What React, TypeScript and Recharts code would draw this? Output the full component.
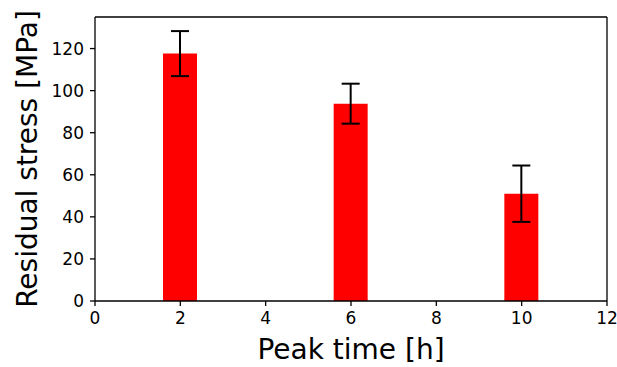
import { BarChart, Bar, XAxis, YAxis, ErrorBar, ReferenceLine } from "recharts";

document.body.style.margin = "0";

const peakTimes = [2, 6, 10];
const stress = [117.6, 93.8, 51.0];
const stressErr = [10.7, 9.5, 13.4];
const xTicks = [0, 2, 4, 6, 8, 10, 12];
const yTicks = [0, 20, 40, 60, 80, 100, 120];

const data = peakTimes.map((t, i) => ({ t, stress: stress[i], err: stressErr[i] }));

const font = "'DejaVu Sans', sans-serif";
const tickStyle = { fontSize: 17, fill: "#000", fontFamily: font };

export default function App() {
  return (
    <BarChart
      width={617}
      height={367}
      data={data}
      margin={{ top: 17, right: 10, left: 0, bottom: 0 }}
    >
      <XAxis
        dataKey="t"
        type="number"
        domain={[0, 12]}
        ticks={xTicks}
        tick={tickStyle}
        tickSize={5}
        tickMargin={6}
        axisLine={{ stroke: "#000", strokeWidth: 1.3 }}
        tickLine={{ stroke: "#000", strokeWidth: 1.3 }}
        height={66}
        label={{ value: "Peak time [h]", position: "insideBottom", offset: 8, fontSize: 28, fill: "#000", fontFamily: font }}
      />
      <YAxis
        type="number"
        domain={[0, 135]}
        ticks={yTicks}
        tick={tickStyle}
        tickSize={5}
        tickMargin={6}
        axisLine={{ stroke: "#000", strokeWidth: 1.3 }}
        tickLine={{ stroke: "#000", strokeWidth: 1.3 }}
        width={95}
        label={{ value: "Residual stress [MPa]", angle: -90, position: "center", dx: -20, fontSize: 28, fill: "#000", fontFamily: font }}
      />
      <ReferenceLine y={135} stroke="#000" strokeWidth={1.3} />
      <ReferenceLine x={12} stroke="#000" strokeWidth={1.3} />
      <Bar dataKey="stress" fill="#ff0000" barSize={34} isAnimationActive={false}>
        <ErrorBar dataKey="err" direction="y" width={9} stroke="#000" strokeWidth={2} isAnimationActive={false} />
      </Bar>
    </BarChart>
  );
}
